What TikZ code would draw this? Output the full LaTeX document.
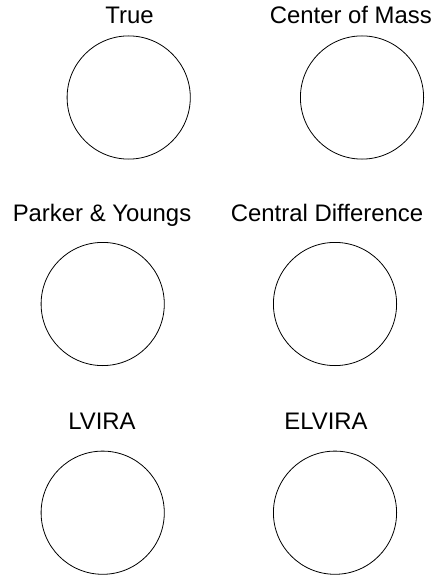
\documentclass[tikz,border=0pt]{standalone}
\usepackage{fontspec}
\setmainfont{Liberation Sans}
\begin{document}
\begin{tikzpicture}[x=1bp,y=-1bp,
  ring/.style={draw=black,circle,line width=0.8bp,inner sep=0pt,minimum size=123.2bp},
  lab/.style={anchor=base,inner sep=0pt,font=\fontsize{23.9bp}{28bp}\selectfont}]
\useasboundingbox (0,0) rectangle (433,576);
% row 1
\node[lab] (t1) at (129.5,24) {True};
\node[lab] (t2) at (350.8,24) {Center of Mass};
\node[ring] (c1) at (128.7,97.5) {};
\node[ring] (c2) at (362,97.5) {};
% row 2
\node[lab] (t3) at (102,221.7) {Parker \& Youngs};
\node[lab] (t4) at (327,221.7) {Central Difference};
\node[ring] (c3) at (102.7,304) {};
\node[ring] (c4) at (335,304) {};
% row 3
\node[lab] (t5) at (102,429.3) {LVIRA};
\node[lab] (t6) at (326,429.3) {ELVIRA};
\node[ring] (c5) at (102.7,512.7) {};
\node[ring] (c6) at (335,512.7) {};
\end{tikzpicture}
\end{document}
